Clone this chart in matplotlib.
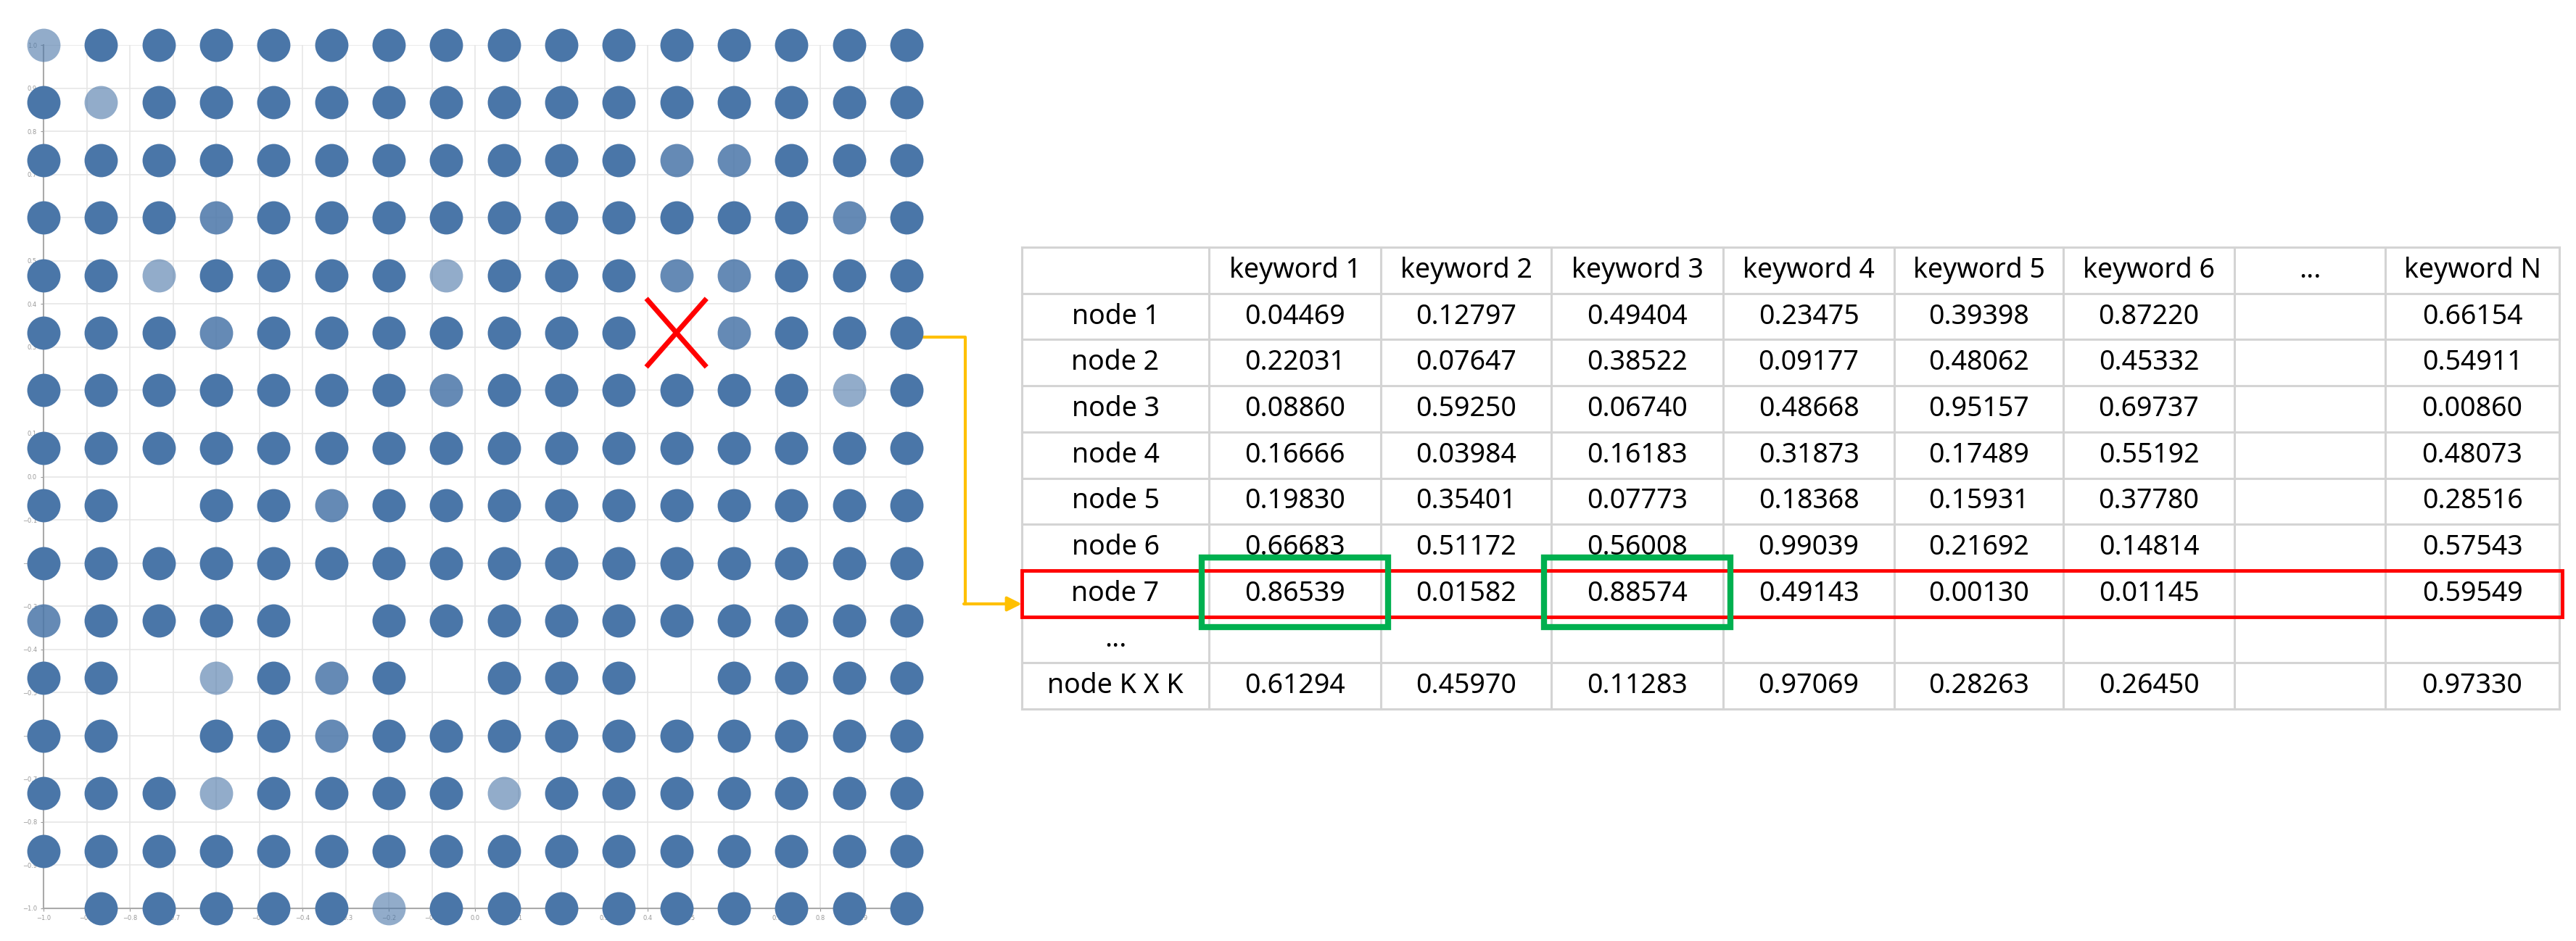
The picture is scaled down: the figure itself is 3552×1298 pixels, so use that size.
import numpy as np
import matplotlib
matplotlib.use("Agg")
import matplotlib.pyplot as plt
from matplotlib.patches import Rectangle

# --- SOM grid: 16 x 16 nodes; 1 = full, 0.85 = medium, 0.6 = light, 0 = empty
K = 16
shade = np.ones((K, K))
light = [(0, 0), (1, 1), (4, 2), (4, 7), (6, 14), (11, 3), (13, 3), (13, 8), (15, 6)]
medium = [(2, 11), (2, 12), (3, 3), (3, 14), (4, 11), (4, 12), (5, 3), (5, 12),
          (6, 7), (8, 5), (10, 0), (11, 5), (12, 5)]
empty = [(5, 11), (8, 2), (10, 5), (11, 2), (11, 7), (11, 11), (12, 2), (15, 0)]
for r, c in light:
    shade[r, c] = 0.6
for r, c in medium:
    shade[r, c] = 0.85
for r, c in empty:
    shade[r, c] = 0
winner = (5, 11)

# --- table
keywords = ["keyword 1", "keyword 2", "keyword 3", "keyword 4", "keyword 5",
            "keyword 6", "...", "keyword N"]
nodes = ["node 1", "node 2", "node 3", "node 4", "node 5", "node 6", "node 7",
         "...", "node K X K"]
values = [
    ["0.04469", "0.12797", "0.49404", "0.23475", "0.39398", "0.87220", "", "0.66154"],
    ["0.22031", "0.07647", "0.38522", "0.09177", "0.48062", "0.45332", "", "0.54911"],
    ["0.08860", "0.59250", "0.06740", "0.48668", "0.95157", "0.69737", "", "0.00860"],
    ["0.16666", "0.03984", "0.16183", "0.31873", "0.17489", "0.55192", "", "0.48073"],
    ["0.19830", "0.35401", "0.07773", "0.18368", "0.15931", "0.37780", "", "0.28516"],
    ["0.66683", "0.51172", "0.56008", "0.99039", "0.21692", "0.14814", "", "0.57543"],
    ["0.86539", "0.01582", "0.88574", "0.49143", "0.00130", "0.01145", "", "0.59549"],
    ["", "", "", "", "", "", "", ""],
    ["0.61294", "0.45970", "0.11283", "0.97069", "0.28263", "0.26450", "", "0.97330"],
]
highlight_row = 6
highlight_cols = [0, 2]

W, H = 3552, 1298
fig = plt.figure(figsize=(W / 100, H / 100), dpi=100)

# overlay axes in pixel coordinates (y down)
ov = fig.add_axes([0, 0, 1, 1])
ov.set_xlim(0, W)
ov.set_ylim(H, 0)
ov.axis("off")

ax = fig.add_axes([60 / W, 45 / H, 1190 / W, 1191 / H])
ax.set_xlim(-1, 1)
ax.set_ylim(-1, 1)
ax.set_xticks(np.round(np.arange(-1, 1.01, 0.1), 1))
ax.set_yticks(np.round(np.arange(-1, 1.01, 0.1), 1))
ax.tick_params(labelsize=6, colors="#999999", length=3)
ax.grid(color="#e6e6e6", lw=1.2)
ax.set_axisbelow(True)
for s in ["top", "right"]:
    ax.spines[s].set_visible(False)
for s in ["left", "bottom"]:
    ax.spines[s].set_color("#aaaaaa")
    ax.spines[s].set_linewidth(1.5)

pos = np.linspace(-1, 1, K)
ypos = np.linspace(1, -1, K)
for r in range(K):
    for c in range(K):
        if shade[r, c] > 0:
            ax.scatter(pos[c], ypos[r], s=1090, color="#4A76A8", alpha=shade[r, c],
                       lw=0, clip_on=False, zorder=3)

wx, wy = pos[winner[1]], ypos[winner[0]]
ax.plot([wx - 0.066, wx + 0.066], [wy + 0.075, wy - 0.075], color="red", lw=5, zorder=5,
        clip_on=False)
ax.plot([wx - 0.066, wx + 0.066], [wy - 0.075, wy + 0.075], color="red", lw=5, zorder=5,
        clip_on=False)

# table
col_edges = [1409, 1667, 1904, 2139, 2376, 2612, 2845, 3081, 3289, 3529]
top, rh = 341, 63.7
nrows = len(nodes) + 1
row_edges = [top + i * rh for i in range(nrows + 1)]
grid_c = "#d4d4d4"
for y in row_edges:
    ov.plot([col_edges[0], col_edges[-1]], [y, y], color=grid_c, lw=2.2, zorder=1)
for x in col_edges:
    ov.plot([x, x], [row_edges[0], row_edges[-1]], color=grid_c, lw=2.2, zorder=1)

fs = 27
font = "Noto Sans"
for j, kw in enumerate(keywords):
    xc = (col_edges[j + 1] + col_edges[j + 2]) / 2
    ov.text(xc, (row_edges[0] + row_edges[1]) / 2, kw, ha="center", va="center",
            fontsize=fs, family=font)
for i, nd in enumerate(nodes):
    yc = (row_edges[i + 1] + row_edges[i + 2]) / 2
    ov.text((col_edges[0] + col_edges[1]) / 2, yc, nd, ha="center", va="center",
            fontsize=fs, family=font)
    for j, v in enumerate(values[i]):
        if v:
            xc = (col_edges[j + 1] + col_edges[j + 2]) / 2
            ov.text(xc, yc, v, ha="center", va="center", fontsize=fs, family=font)

# highlights
ry0 = row_edges[highlight_row + 1]
ov.add_patch(Rectangle((col_edges[0], ry0), 3533 - col_edges[0], rh, fill=False,
                       ec="red", lw=3.5, zorder=4))
for j in highlight_cols:
    x0, x1 = col_edges[j + 1] - 10, col_edges[j + 2] + 10
    ov.add_patch(Rectangle((x0, ry0 - 18), x1 - x0, rh + 32, fill=False,
                           ec="#00B050", lw=6, zorder=5))

# connector arrow
ov.plot([963, 1331, 1331], [465, 465, 833], color="#FFC000", lw=3, zorder=3)
ov.annotate("", xy=(1409, 833), xytext=(1329, 833),
            arrowprops=dict(arrowstyle="-|>", color="#FFC000", lw=3,
                            mutation_scale=30, shrinkA=0, shrinkB=0))

fig.savefig("out.png", dpi=100)
